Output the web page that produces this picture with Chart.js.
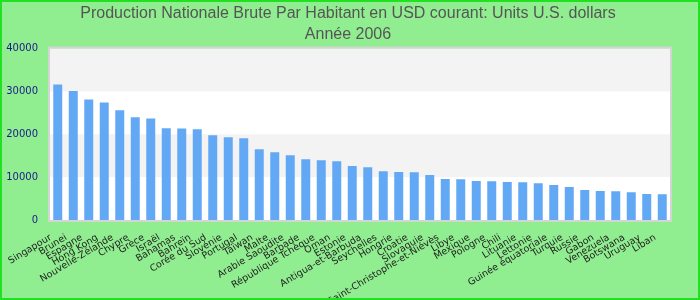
<!DOCTYPE html>
<html>
<head>
<meta charset="utf-8">
<script src="https://cdn.jsdelivr.net/npm/chart.js@4/dist/chart.umd.min.js"></script>
<style>
  html, body { margin: 0; padding: 0; background: #90ee90; }
  #wrap { width: 700px; height: 300px; box-sizing: border-box; border: 2px solid #22e022; background: #90ee90; }
  canvas { display: block; }
</style>
</head>
<body>
<div id="wrap"><canvas id="c" width="696" height="296"></canvas></div>
<script>
const categories = [
  "Singapour", "Brunei", "Espagne", "Hong Kong", "Nouvelle-Zélande", "Chypre", "Grèce", "Israël",
  "Bahamas", "Bahreïn", "Corée du Sud", "Slovénie", "Portugal", "Taïwan", "Malte", "Arabie Saoudite",
  "Barbade", "République Tchèque", "Oman", "Estonie", "Antigua-et-Barbuda", "Seychelles", "Hongrie",
  "Croatie", "Slovaquie", "Saint-Christophe-et-Niévès", "Libye", "Mexique", "Pologne", "Chili",
  "Lituanie", "Lettonie", "Guinée équatoriale", "Turquie", "Russie", "Gabon", "Venezuela",
  "Botswana", "Uruguay", "Liban"
];
const values = [
  31600, 30100, 28100, 27400, 25600, 24000, 23700, 21400,
  21350, 21200, 19800, 19300, 19100, 16500, 15800, 15100,
  14200, 13950, 13700, 12600, 12300, 11400, 11200,
  11150, 10500, 9550, 9500, 9100, 9050, 8850,
  8800, 8600, 8150, 7700, 7000, 6750, 6700,
  6500, 6050, 6000
];
const yTicks = [0, 10000, 20000, 30000, 40000];
const titleLines = ["Production Nationale Brute Par Habitant en USD courant: Units U.S. dollars", "Année 2006"];

const bandPlugin = {
  id: 'bands',
  beforeDraw(chart) {
    const { ctx, chartArea: a, scales: { y } } = chart;
    ctx.save();
    ctx.fillStyle = '#ffffff';
    ctx.fillRect(a.left, a.top, a.right - a.left, a.bottom - a.top);
    for (let i = 0; i < yTicks.length - 1; i++) {
      if (i % 2 === 1) {
        const y0 = y.getPixelForValue(yTicks[i]);
        const y1 = y.getPixelForValue(yTicks[i + 1]);
        ctx.fillStyle = '#f3f3f3';
        ctx.fillRect(a.left, y1, a.right - a.left, y0 - y1);
      }
    }
    ctx.restore();
  },
  afterDatasetsDraw(chart) {
    const { ctx, chartArea: a } = chart;
    ctx.save();
    ctx.strokeStyle = '#d4d4d4';
    ctx.lineWidth = 2;
    ctx.strokeRect(a.left - 1, a.top - 1, a.right - a.left + 2, a.bottom - a.top + 2);
    ctx.restore();
  }
};

new Chart(document.getElementById('c'), {
  type: 'bar',
  data: {
    labels: categories,
    datasets: [{
      data: values,
      backgroundColor: '#62a8f4',
      borderWidth: 0,
      barPercentage: 0.58,
      categoryPercentage: 1.0
    }]
  },
  options: {
    responsive: false,
    animation: false,
    layout: { padding: { left: 0, right: 4, top: 0, bottom: 0 } },
    plugins: {
      legend: { display: false },
      tooltip: { enabled: false },
      title: {
        display: true,
        text: titleLines,
        color: '#555555',
        font: { family: 'Liberation Sans, Arial, sans-serif', size: 16, weight: 'normal', lineHeight: 1.3 },
        padding: { top: 1, bottom: 4 }
      }
    },
    scales: {
      x: {
        grid: { display: false, drawTicks: false },
        border: { display: false },
        ticks: {
          color: '#222222',
          font: { family: 'DejaVu Sans', size: 9.5 },
          autoSkip: false,
          minRotation: 31,
          maxRotation: 31,
          padding: 12,
          labelOffset: -7
        },
        afterFit(scale) { scale.height = 78; }
      },
      y: {
        min: 0,
        max: 40000,
        grid: { display: false, drawTicks: false },
        border: { display: false },
        afterBuildTicks(scale) { scale.ticks = yTicks.map(v => ({ value: v })); },
        ticks: {
          color: '#1a1a8a',
          font: { family: 'DejaVu Sans', size: 10 },
          padding: 12,
          callback: (v) => String(v)
        },
        afterFit(scale) { scale.width = 48; }
      },
      yr: {
        position: 'right',
        display: true,
        grid: { display: false, drawTicks: false },
        border: { display: false },
        ticks: { display: false },
        afterFit(scale) { scale.width = 24; }
      }
    }
  },
  plugins: [bandPlugin]
});
</script>
</body>
</html>
